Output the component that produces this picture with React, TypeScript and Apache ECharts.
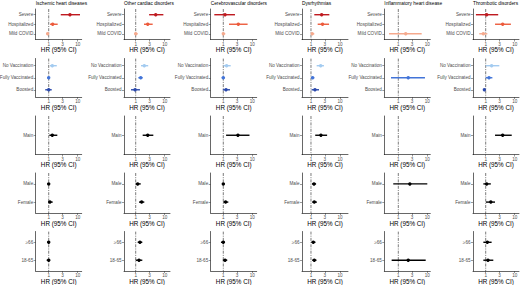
import React, { useEffect, useRef } from "react";
import * as echarts from "echarts";

// ---------- DATA ----------
const outcomes = [
  "Ischemic heart diseases",
  "Other cardiac disorders",
  "Cerebrovascular disorders",
  "Dysrhythmias",
  "Inflammatory heart disease",
  "Thrombotic disorders",
];

const severityCats = ["Severe", "Hospitalized", "Mild COVID"];
const vaccinationCats = ["No Vaccination", "Fully Vaccinated", "Boosted"];
const mainCats = ["Main"];
const sexCats = ["Male", "Female"];
const ageCats = ["\u226566", "18-65"];

const xTickLabels = [1, 3, 10];

// per outcome (column), per category: hazard ratio, lower and upper 95% CI
const severityHR = [[5.4, 1.37, 0.92], [4.9, 2.6, 1.0], [1.15, 3.3, 1.0], [2.33, 2.5, 1.1], [null, null, 1.8], [1.08, 3.85, 0.83]];
const severityLo = [[2.6, 1.11, 0.85], [2.9, 1.93, 0.9], [0.49, 1.57, 0.92], [1.3, 1.7, 1.0], [null, null, 0.48], [0.46, 2.1, 0.6]];
const severityHi = [[12, 2.04, 1.02], [9.0, 3.85, 1.17], [2.53, 6.9, 1.17], [4.3, 4.2, 1.3], [null, null, 6.4], [2.7, 7.4, 1.14]];

const vaccinationHR = [[1.33, 1.0, 1.0], [1.98, 1.49, 0.95], [1.3, 1.0, 1.24], [2.16, 1.14, 1.37], [null, 2.2, null], [1.6, 1.3, 0.9]];
const vaccinationLo = [[1.1, 0.88, 0.76], [1.52, 1.23, 0.69], [1.0, 0.88, 0.96], [1.57, 1.0, 1.05], [null, 0.56, null], [1.0, 1.0, 0.83]];
const vaccinationHi = [[1.9, 1.1, 1.27], [2.7, 1.74, 1.4], [1.8, 1.15, 1.7], [2.8, 1.3, 1.89], [null, 8.3, null], [2.95, 1.7, 0.98]];

const mainHR = [[1.33], [2.6], [3.2], [2.2], [null], [3.85]];
const mainLo = [[1.05], [1.74], [1.25], [1.4], [null], [2.1]];
const mainHi = [[1.98], [4.05], [8.0], [3.6], [null], [7.9]];

const sexHR = [[1.0, 1.1], [1.17, 1.6], [1.0, 1.2], [1.27, 1.3], [2.5, null], [1.08, 1.5]];
const sexLo = [[0.92, 0.95], [1.0, 1.3], [0.92, 1.0], [1.08, 1.1], [0.67, null], [0.83, 1.02]];
const sexHi = [[1.08, 1.37], [1.49, 1.98], [1.12, 1.49], [1.5, 1.6], [10, null], [1.5, 2.1]];

const ageHR = [[1.0, 1.0], [1.4, 1.3], [1.0, 1.15], [1.2, 1.3], [null, 2.2], [1.14, 1.2]];
const ageLo = [[0.88, 0.85], [1.17, 1.0], [0.83, 0.96], [1.03, 1.1], [null, 0.59], [0.83, 0.83]];
const ageHi = [[1.1, 1.12], [1.69, 1.69], [1.15, 1.37], [1.43, 1.55], [null, 8.8], [1.6, 1.83]];

// x-axis lower limits (HR) per outcome column
const xMinHR = [0.356, 0.395, 0.368, 0.49, 0.329, 0.365];

// ---------- STYLE / LAYOUT ----------
const severityColors = ["#BF1A20", "#EC5B3C", "#F5A98D"];
const vaccinationColors = ["#A3CBF0", "#4274D8", "#2B49AC"];
const black = ["#000000", "#000000", "#000000"];

const groups = [
  { cats: severityCats, est: severityHR, lo: severityLo, hi: severityHi, colors: severityColors },
  { cats: vaccinationCats, est: vaccinationHR, lo: vaccinationLo, hi: vaccinationHi, colors: vaccinationColors },
  { cats: mainCats, est: mainHR, lo: mainLo, hi: mainHi, colors: black },
  { cats: sexCats, est: sexHR, lo: sexLo, hi: sexHi, colors: black },
  { cats: ageCats, est: ageHR, lo: ageLo, hi: ageHi, colors: black },
];

const colLeft = [35.7, 124, 210.7, 302, 384.3, 473];
const panelWidth = 46;
const pxPerDecade = 29;
const rowTop = [9, 58.5, 116, 173, 231.5];
const rowBottom = [39.5, 97, 154.5, 213, 271];
const FONT = "'Liberation Sans', Arial, Helvetica, sans-serif";

function buildOption() {
  const grid: any[] = [];
  const xAxis: any[] = [];
  const yAxis: any[] = [];
  const series: any[] = [];
  const tickVals = xTickLabels.map((v) => Math.log10(v));

  groups.forEach((g, r) => {
    const n = g.cats.length;
    const idx = g.cats.map((_, k) => k);
    outcomes.forEach((_, c) => {
      const i = grid.length;
      const xmin = Math.log10(xMinHR[c]);
      const xmax = xmin + panelWidth / pxPerDecade;
      grid.push({
        left: colLeft[c],
        top: rowTop[r],
        width: panelWidth,
        height: rowBottom[r] - rowTop[r],
        containLabel: false,
        outerBoundsMode: "none",
      });
      xAxis.push({
        type: "value",
        gridIndex: i,
        min: xmin,
        max: xmax,
        axisLine: { show: true, onZero: false, lineStyle: { color: "#000", width: 0.6 } },
        axisTick: { show: true, length: 2, customValues: tickVals, lineStyle: { color: "#333", width: 0.5 } },
        axisLabel: {
          customValues: tickVals,
          formatter: (v: number) => String(Math.round(Math.pow(10, v))),
          fontSize: 4.6,
          color: "#4d4d4d",
          margin: 2,
          fontFamily: FONT,
        },
        splitLine: { show: false },
        name: "HR (95% CI)",
        nameLocation: "middle",
        nameGap: 7,
        nameMoveOverlap: false,
        nameTextStyle: { fontSize: 6.3, color: "#000", fontFamily: FONT },
      });
      yAxis.push({
        type: "value",
        gridIndex: i,
        inverse: true,
        min: -0.6,
        max: n - 0.4,
        axisLine: { show: true, onZero: false, lineStyle: { color: "#000", width: 0.6 } },
        axisTick: { show: true, length: 2, customValues: idx, lineStyle: { color: "#333", width: 0.5 } },
        axisLabel: {
          customValues: idx,
          formatter: (v: number) => g.cats[Math.round(v)] ?? "",
          fontSize: 4.6,
          color: "#4d4d4d",
          margin: 2.5,
          fontFamily: FONT,
        },
        splitLine: { show: false },
      });
      series.push({
        type: "line",
        xAxisIndex: i,
        yAxisIndex: i,
        data: [[0, -0.6], [0, n - 0.4]],
        symbol: "none",
        silent: true,
        z: 1,
        lineStyle: { color: "#222", width: 0.6, type: [3, 1.2, 1, 1.2] },
      });
      const data: any[] = [];
      g.cats.forEach((_, k) => {
        const e = g.est[c][k];
        const lo = g.lo[c][k];
        const hi = g.hi[c][k];
        if (e == null || lo == null || hi == null) return;
        data.push([k, Math.log10(e), Math.log10(lo), Math.log10(hi)]);
      });
      const colors = g.colors;
      series.push({
        type: "custom",
        xAxisIndex: i,
        yAxisIndex: i,
        z: 3,
        silent: true,
        encode: { x: [1, 2, 3], y: 0 },
        data,
        renderItem: (_p: any, api: any) => {
          const y = api.value(0);
          const a = api.coord([api.value(2), y]);
          const b = api.coord([api.value(3), y]);
          const p = api.coord([api.value(1), y]);
          const color = colors[Math.round(y)];
          return {
            type: "group",
            children: [
              { type: "line", shape: { x1: a[0], y1: a[1], x2: b[0], y2: b[1] }, style: { stroke: color, lineWidth: 1.4 } },
              { type: "circle", shape: { cx: p[0], cy: p[1], r: 1.7 }, style: { fill: color } },
            ],
          };
        },
      });
    });
  });

  const title = outcomes.map((t, c) => ({
    text: t,
    left: colLeft[c],
    top: 0.5,
    padding: 0,
    textStyle: { fontSize: 4.8, fontWeight: "normal", color: "#000", fontFamily: FONT },
  }));

  return {
    animation: false,
    backgroundColor: "#ffffff",
    textStyle: { fontFamily: FONT },
    title,
    grid,
    xAxis,
    yAxis,
    series,
  };
}

export default function App() {
  const ref = useRef<HTMLDivElement>(null);
  useEffect(() => {
    if (!ref.current) return;
    const chart = echarts.init(ref.current, undefined, { renderer: "svg" });
    chart.setOption(buildOption() as any);
    return () => chart.dispose();
  }, []);
  return (
    <div
      ref={ref}
      style={{ position: "fixed", left: 0, top: 0, width: 520, height: 285, background: "#fff" }}
    />
  );
}
